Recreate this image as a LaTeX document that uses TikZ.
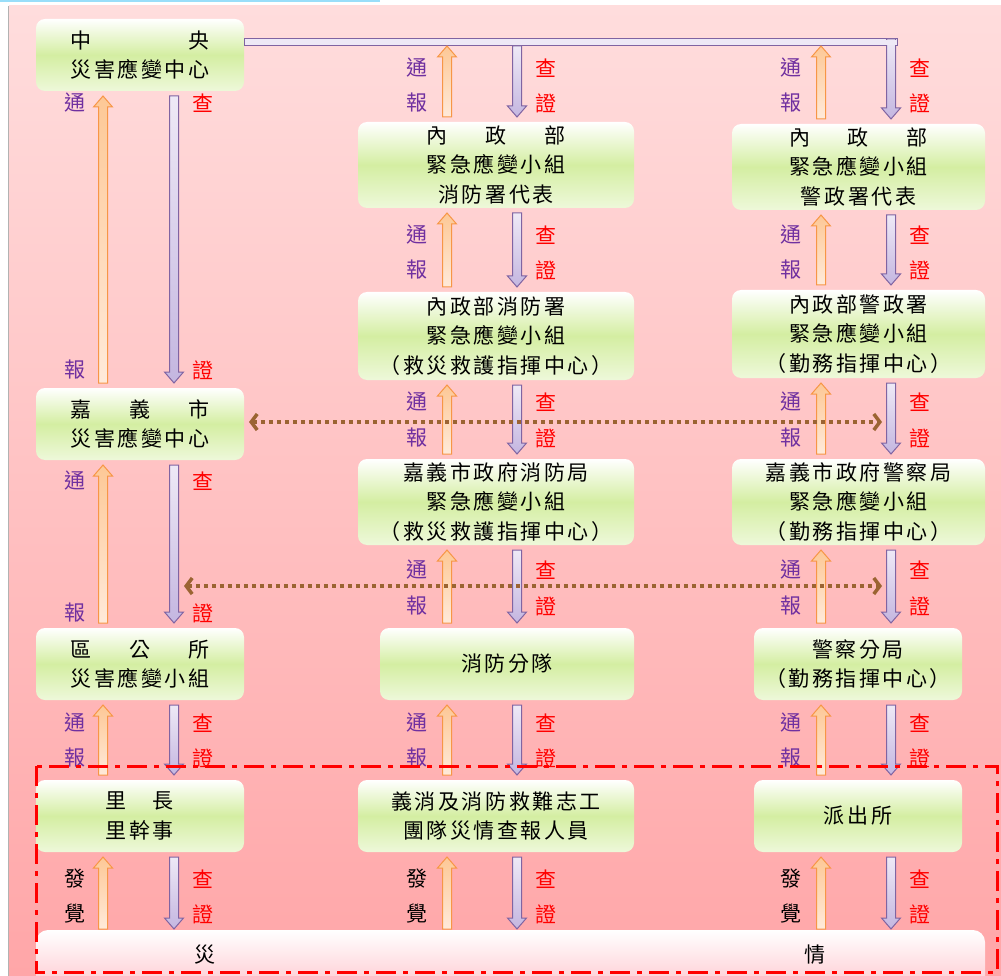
\documentclass[tikz,border=0pt]{standalone}
\usepackage{fontspec}
\setmainfont[LetterSpace=12]{Noto Sans CJK TC}
\usepackage{tikz}
\usetikzlibrary{arrows.meta}
\usetikzlibrary{calc}
\usetikzlibrary{positioning}

\definecolor{bgt}{RGB}{255,221,221}
\definecolor{bgb}{RGB}{255,166,168}
\definecolor{boxg}{RGB}{212,238,162}
\definecolor{arrO}{RGB}{247,150,70}
\definecolor{arrOd}{RGB}{253,200,150}
\definecolor{arrOl}{RGB}{255,234,218}
\definecolor{arrP}{RGB}{128,100,162}
\definecolor{arrPl}{RGB}{238,233,246}
\definecolor{arrPd}{RGB}{196,182,224}
\definecolor{lblP}{RGB}{112,48,160}
\definecolor{dotb}{RGB}{155,100,50}
\definecolor{barp}{RGB}{255,196,204}

\newcommand\boxfont{\fontsize{21}{29.5}\selectfont}
\newcommand\lblfont{\fontsize{21}{21}\selectfont}
% spread #1 over the width of #2
\newcommand\sprd[2]{\setbox0\hbox{#2}\makebox[\wd0][s]{#1}}
% vertical block arrow: style, from, to
\newcommand\varr[3]{%
\path[#1] let \p1=#2, \p2=#3, \n1={ifthenelse(\y2>\y1,1,-1)} in
  ({\x1-4.5pt},\y1) -- ({\x1-4.5pt},{\y2-\n1*11pt}) -- ({\x1-9.5pt},{\y2-\n1*11pt})
  -- (\x1,\y2) -- ({\x1+9.5pt},{\y2-\n1*11pt}) -- ({\x1+4.5pt},{\y2-\n1*11pt})
  -- ({\x1+4.5pt},\y1) -- cycle;}

\begin{document}
\begin{tikzpicture}[x=1pt,y=-1pt,
  box/.style={rounded corners=9pt, top color=white, bottom color=white!60!boxg, middle color=boxg,
    outer sep=5pt, inner sep=0pt, align=center, font=\boxfont},
  upar/.style={draw=arrO, line width=1pt, top color=arrOd, bottom color=arrOl},
  dnar/.style={draw=arrP, line width=1pt, top color=arrPl, bottom color=arrPd},
  tbar/.style={draw=arrP, line width=1pt, fill=arrPl, inner sep=0pt, outer sep=0pt},
  lbp/.style={text=lblP, font=\lblfont, inner sep=0pt},
  lbr/.style={text=red, font=\lblfont, inner sep=0pt},
  lbk/.style={text=black, font=\lblfont, inner sep=0pt},
  dotar/.style={draw=dotb, line width=3.5pt, dash pattern=on 4pt off 4pt,
    {Straight Barb[length=6pt,width=16pt,line width=3.5pt]}-{Straight Barb[length=6pt,width=16pt,line width=3.5pt]}}]
\useasboundingbox (0,0) rectangle (1001,976);
\clip (0,0) rectangle (1001,976);

% background
\fill[white] (0,0) rectangle (1001,976);
\fill[top color=bgt, bottom color=bgb] (9,6) rectangle (1001,976);
\draw[gray!60, line width=1pt] (8.5,6) -- (8.5,976);
\draw[cyan!40, line width=2pt] (0,1) -- (380,1);

% columns
\coordinate (uL) at (103,0);
\coordinate (dL) at (174,0);
\coordinate (uM) at (447,0);
\coordinate (dM) at (517,0);
\coordinate (uR) at (821,0);
\coordinate (dR) at (891,0);

% boxes
\node[box, minimum width=208pt, minimum height=72pt] (cz) at (140,55)
  {\sprd{中\hfill 央}{災害應變中心}\\災害應變中心};
\node[box, minimum width=276pt, minimum height=86pt] (nzx) at (496,165)
  {\sprd{內\hfill 政\hfill 部}{緊急應變小組}\\緊急應變小組\\消防署代表};
\node[box, minimum width=253pt, minimum height=86pt] (nzj) at (858.5,167)
  {\sprd{內\hfill 政\hfill 部}{緊急應變小組}\\緊急應變小組\\警政署代表};
\node[box, minimum width=276pt, minimum height=88pt] (xfs) at (496,336)
  {內政部消防署\\緊急應變小組\\（救災救護指揮中心）};
\node[box, minimum width=253pt, minimum height=88pt] (jzs) at (858.5,334)
  {內政部警政署\\緊急應變小組\\（勤務指揮中心）};
\node[box, minimum width=208pt, minimum height=72pt] (jy) at (140,424)
  {\sprd{嘉\hfill 義\hfill 市}{災害應變中心}\\災害應變中心};
\node[box, minimum width=276pt, minimum height=86pt] (jxf) at (496,502)
  {嘉義市政府消防局\\緊急應變小組\\（救災救護指揮中心）};
\node[box, minimum width=253pt, minimum height=86pt] (jjc) at (858.5,502)
  {嘉義市政府警察局\\緊急應變小組\\（勤務指揮中心）};
\node[box, minimum width=208pt, minimum height=72pt] (qgs) at (140,664)
  {\sprd{區\hfill 公\hfill 所}{災害應變小組}\\災害應變小組};
\node[box, minimum width=254pt, minimum height=72pt] (xfd) at (507,664) {消防分隊};
\node[box, minimum width=208pt, minimum height=72pt] (jcf) at (858,664)
  {警察分局\\（勤務指揮中心）};
\node[box, minimum width=208pt, minimum height=72pt] (lz) at (140,816)
  {里　長\\里幹事};
\node[box, minimum width=276pt, minimum height=72pt] (yx) at (496,816)
  {義消及消防救難志工\\團隊災情查報人員};
\node[box, minimum width=208pt, minimum height=72pt] (pcs) at (858,816) {派出所};

% disaster bar
\node[rounded corners=12pt, top color=white, bottom color=barp, outer sep=1pt,
  minimum width=949pt, minimum height=64pt] (zq) at (510.5,962) {};
\node[lbk, font=\boxfont] (zai) at (205,955) {災};
\node[lbk, font=\boxfont] (qing) at (815,955) {情};

% top bar
\node[tbar, minimum width=653pt, minimum height=7pt] (tb) at (570.5,42.5) {};

% left column
\varr{upar}{(uL |- jy.north)}{(uL |- cz.south)}
\varr{dnar}{(dL |- cz.south)}{(dL |- jy.north)}
\varr{upar}{(uL |- qgs.north)}{(uL |- jy.south)}
\varr{dnar}{(dL |- jy.south)}{(dL |- qgs.north)}
\varr{upar}{(uL |- lz.north)}{(uL |- qgs.south)}
\varr{dnar}{(dL |- qgs.south)}{(dL |- lz.north)}
\varr{upar}{(uL |- zq.north)}{(uL |- lz.south)}
\varr{dnar}{(dL |- lz.south)}{(dL |- zq.north)}

% middle column
\varr{upar}{(uM |- nzx.north)}{(uM |- tb.south)}
\varr{dnar}{(dM |- tb.south)}{(dM |- nzx.north)}
\varr{upar}{(uM |- xfs.north)}{(uM |- nzx.south)}
\varr{dnar}{(dM |- nzx.south)}{(dM |- xfs.north)}
\varr{upar}{(uM |- jxf.north)}{(uM |- xfs.south)}
\varr{dnar}{(dM |- xfs.south)}{(dM |- jxf.north)}
\varr{upar}{(uM |- xfd.north)}{(uM |- jxf.south)}
\varr{dnar}{(dM |- jxf.south)}{(dM |- xfd.north)}
\varr{upar}{(uM |- yx.north)}{(uM |- xfd.south)}
\varr{dnar}{(dM |- xfd.south)}{(dM |- yx.north)}
\varr{upar}{(uM |- zq.north)}{(uM |- yx.south)}
\varr{dnar}{(dM |- yx.south)}{(dM |- zq.north)}

% right column
\varr{upar}{(uR |- nzj.north)}{(uR |- tb.south)}
\varr{dnar}{(dR |- tb.north)}{(dR |- nzj.north)}
\varr{upar}{(uR |- jzs.north)}{(uR |- nzj.south)}
\varr{dnar}{(dR |- nzj.south)}{(dR |- jzs.north)}
\varr{upar}{(uR |- jjc.north)}{(uR |- jzs.south)}
\varr{dnar}{(dR |- jzs.south)}{(dR |- jjc.north)}
\varr{upar}{(uR |- jcf.north)}{(uR |- jjc.south)}
\varr{dnar}{(dR |- jjc.south)}{(dR |- jcf.north)}
\varr{upar}{(uR |- pcs.north)}{(uR |- jcf.south)}
\varr{dnar}{(dR |- jcf.south)}{(dR |- pcs.north)}
\varr{upar}{(uR |- zq.north)}{(uR |- pcs.south)}
\varr{dnar}{(dR |- pcs.south)}{(dR |- zq.north)}
\fill[arrPl] (885.5,40) rectangle (896.5,45.5);

% dotted links
\coordinate (d1) at (882,422);
\coordinate (d2a) at (184,586);
\coordinate (d2b) at (882,586);
\draw[dotar] (jy.east |- d1) -- (d1);
\draw[dotar] (d2a) -- (d2b);

% labels
\foreach \x/\ya/\yb [count=\k] in {75/103/370,75/481/613,75/723/758,
  417/68/103,417/235/270,417/402/438,417/570/606,417/723/758,
  791/68/103,791/235/270,791/402/438,791/570/606,791/723/758}
  {\node[lbp] (tong\k) at (\x,\ya) {通};
   \node[lbp] (bao\k) at (\x,\yb) {報};}
\foreach \x/\ya/\yb [count=\k] in {203/103/370,203/481/613,203/723/758,203/879/914,
  546/68/103,546/235/270,546/402/438,546/570/606,546/723/758,546/879/914,
  920/68/103,920/235/270,920/402/438,920/570/606,920/723/758,920/879/914}
  {\node[lbr] (cha\k) at (\x,\ya) {查};
   \node[lbr] (zheng\k) at (\x,\yb) {證};}
\foreach \x [count=\k] in {75,417,791}
  {\node[lbk] (fa\k) at (\x,879) {發};
   \node[lbk] (jue\k) at (\x,914) {覺};}

% local area frame
\draw[red, line width=3pt, dash pattern=on 20pt off 7pt on 5pt off 7pt]
  (36,766) rectangle (997,972);
\end{tikzpicture}
\end{document}
